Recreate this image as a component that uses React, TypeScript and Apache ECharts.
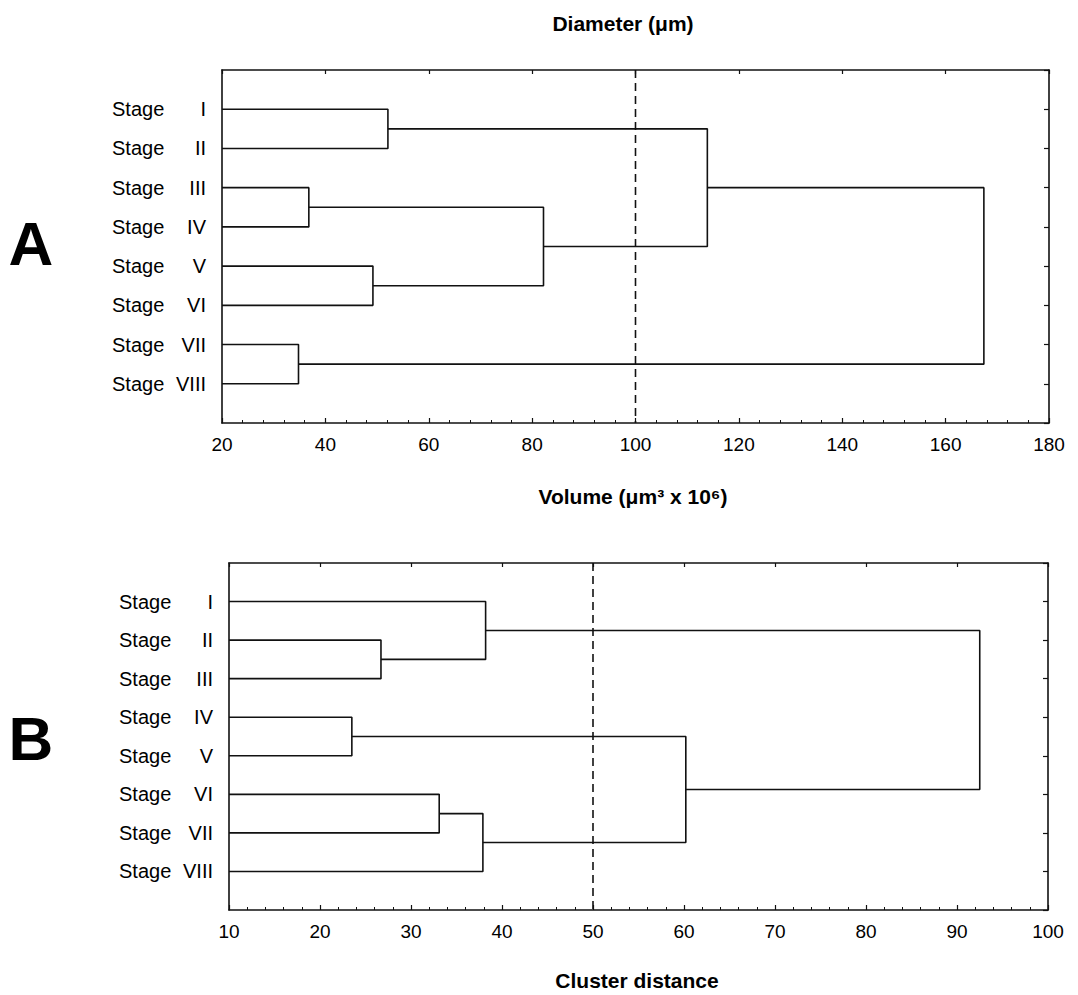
import React, { useEffect, useRef } from "react";
import * as echarts from "echarts";

// ---------- data ----------
const stagesA = ["I", "II", "III", "IV", "V", "VI", "VII", "VIII"];
const stagesB = ["I", "II", "III", "IV", "V", "VI", "VII", "VIII"];
// merges: child ids (0-7 leaves, 8+k = k-th merge) and linkage heights
const pairsA = [[0, 1], [2, 3], [4, 5], [6, 7], [9, 10], [8, 12], [13, 11]];
const heightsA = [52.1, 36.8, 49.2, 34.8, 82.2, 113.9, 167.4];
const pairsB = [[1, 2], [0, 8], [3, 4], [5, 6], [11, 7], [10, 12], [9, 13]];
const heightsB = [26.7, 38.2, 23.5, 33.1, 37.9, 60.2, 92.5];
const xTicksA = [20, 40, 60, 80, 100, 120, 140, 160, 180];
const xTicksB = [10, 20, 30, 40, 50, 60, 70, 80, 90, 100];
const cutA = 100;
const cutB = 50;

const FONT = "'Liberation Sans', Arial, Helvetica, sans-serif";
const INK = "#111";

function dendroSegments(stages: string[], pairs: number[][], heights: number[], xmin: number) {
  const n = stages.length;
  const xs: number[] = [];
  const ys: number[] = [];
  for (let i = 0; i < n; i++) { xs.push(xmin); ys.push(i + 1); }
  const segs: number[][][] = [];
  pairs.forEach((p, k) => {
    const [a, b] = p;
    const h = heights[k];
    segs.push([[xs[a], ys[a]], [h, ys[a]], [h, ys[b]], [xs[b], ys[b]]]);
    xs.push(h);
    ys.push((ys[a] + ys[b]) / 2);
  });
  return segs;
}

export default function App() {
  const ref = useRef<HTMLDivElement>(null);
  useEffect(() => {
    if (!ref.current) return;
    const chart = echarts.init(ref.current, undefined, { renderer: "svg" });

    const grids = [
      { left: 222, top: 70, width: 827, height: 353 },
      { left: 229, top: 563, width: 819, height: 347 },
    ];
    const panels = [
      { stages: stagesA, pairs: pairsA, heights: heightsA, ticks: xTicksA, cut: cutA },
      { stages: stagesB, pairs: pairsB, heights: heightsB, ticks: xTicksB, cut: cutB },
    ];

    const xAxis: any[] = [];
    const yAxis: any[] = [];
    const series: any[] = [];

    panels.forEach((pn, gi) => {
      const min = pn.ticks[0];
      const max = pn.ticks[pn.ticks.length - 1];
      const interval = pn.ticks[1] - pn.ticks[0];
      xAxis.push({
        type: "value", gridIndex: gi, position: "bottom", min, max, interval,
        axisLine: { show: true, onZero: false, lineStyle: { color: INK, width: 1.6 } },
        axisTick: { show: true, inside: true, length: 5, lineStyle: { color: INK, width: 1.2 } },
        minorTick: { show: true, splitNumber: 5, length: 3, lineStyle: { color: INK, width: 1 } },
        splitLine: { show: false },
        axisLabel: { color: "#000", fontSize: 19, fontFamily: FONT, margin: 12 },
      });
      xAxis.push({
        type: "value", gridIndex: gi, position: "top", min, max, interval,
        axisLine: { show: true, onZero: false, lineStyle: { color: INK, width: 1.6 } },
        axisTick: { show: true, inside: true, length: 4, lineStyle: { color: INK, width: 1.2 } },
        splitLine: { show: false },
        axisLabel: { show: false },
      });
      const stages = pn.stages;
      yAxis.push({
        type: "value", gridIndex: gi, position: "left", min: 0, max: stages.length + 1, interval: 1, inverse: true,
        axisLine: { show: true, onZero: false, lineStyle: { color: INK, width: 1.6 } },
        axisTick: { show: false },
        splitLine: { show: false },
        axisLabel: {
          margin: 16,
          formatter: (v: number) => (v >= 1 && v <= stages.length ? `{s|Stage}{n|${stages[v - 1]}}` : ""),
          rich: {
            s: { width: 57, align: "left", fontSize: 20, fontFamily: FONT, color: "#000" },
            n: { width: 37, align: "right", fontSize: 20, fontFamily: FONT, color: "#000" },
          },
        },
      });
      yAxis.push({
        type: "value", gridIndex: gi, position: "right", min: 0, max: stages.length + 1, interval: 1, inverse: true,
        axisLine: { show: true, onZero: false, lineStyle: { color: INK, width: 1.6 } },
        axisTick: { show: true, inside: true, length: 5, lineStyle: { color: INK, width: 1.2 } },
        splitLine: { show: false },
        axisLabel: { show: false },
      });

      const segs = dendroSegments(stages, pn.pairs, pn.heights, min);
      segs.forEach((s) => {
        series.push({
          type: "line", xAxisIndex: gi * 2, yAxisIndex: gi * 2, data: s,
          showSymbol: false, symbol: "none", silent: true,
          lineStyle: { color: INK, width: 1.6 },
        });
      });
      series.push({
        type: "line", xAxisIndex: gi * 2, yAxisIndex: gi * 2,
        data: [[pn.cut, 0], [pn.cut, stages.length + 1]],
        showSymbol: false, symbol: "none", silent: true,
        lineStyle: { color: INK, width: 1.6, type: [8, 5] },
      });
    });

    const txt = (x: number, y: number, text: string, size: number) => ({
      type: "text", x, y,
      style: { text, fontSize: size, fontWeight: "bold", fontFamily: FONT, fill: "#000", align: "center", verticalAlign: "middle" },
    });

    chart.setOption({
      animation: false,
      backgroundColor: "#fff",
      grid: grids.map((g) => ({ ...g, show: false, containLabel: false })),
      xAxis, yAxis, series,
      graphic: [
        txt(623, 23, "Diameter (μm)", 21),
        txt(633, 496, "Volume (μm³ x 10⁶)", 21),
        txt(637, 980, "Cluster distance", 21),
        txt(31, 243, "A", 62),
        txt(31, 738, "B", 62),
      ],
    });
    return () => chart.dispose();
  }, []);
  return <div ref={ref} style={{ position: "fixed", left: 0, top: 0, width: 1078, height: 995 }} />;
}
